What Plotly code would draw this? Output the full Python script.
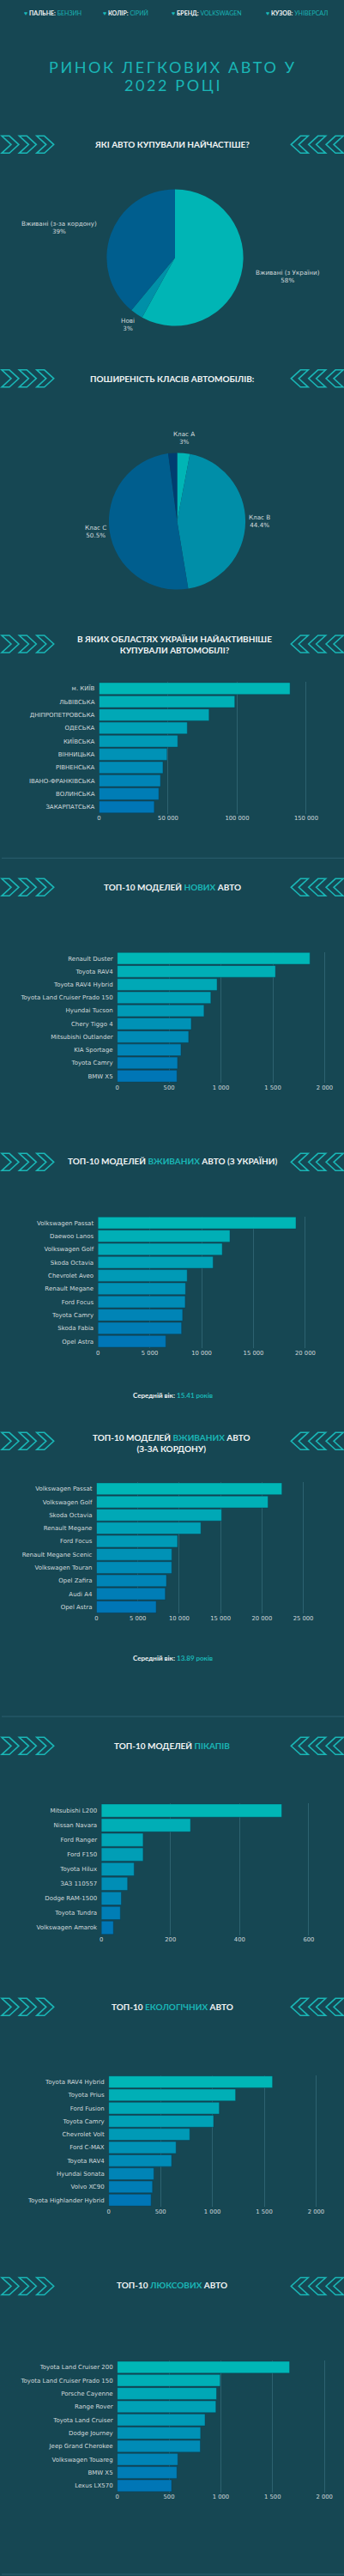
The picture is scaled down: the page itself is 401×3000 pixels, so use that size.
import plotly.graph_objects as go

# ---------------- DATA ----------------
header_labels = ["ПАЛЬНЕ:", "КОЛІР:", "БРЕНД:", "КУЗОВ:"]
header_values = ["БЕНЗИН", "СІРИЙ", "VOLKSWAGEN", "УНІВЕРСАЛ"]

main_title = ["РИНОК ЛЕГКОВИХ АВТО У", "2022 РОЦІ"]

pie1_labels = ["Вживані (з України)", "Нові", "Вживані (з-за кордону)"]
pie1_values = [58, 3, 39]

pie2_labels = ["Клас A", "Клас B", "Клас C", "Інші"]
pie2_values = [3, 44.4, 50.5, 2.1]

regions = ["м. КИЇВ", "ЛЬВІВСЬКА", "ДНІПРОПЕТРОВСЬКА", "ОДЕСЬКА", "КИЇВСЬКА",
           "ВІННИЦЬКА", "РІВНЕНСЬКА", "ІВАНО-ФРАНКІВСЬКА", "ВОЛИНСЬКА", "ЗАКАРПАТСЬКА"]
regions_values = [138300, 98300, 79700, 63900, 57000, 49300, 46300, 44500, 43300, 40000]

new_models = ["Renault Duster", "Toyota RAV4", "Toyota RAV4 Hybrid", "Toyota Land Cruiser Prado 150",
              "Hyundai Tucson", "Chery Tiggo 4", "Mitsubishi Outlander", "KIA Sportage",
              "Toyota Camry", "BMW X5"]
new_values = [1858, 1526, 963, 903, 837, 714, 689, 615, 582, 576]

used_ua_models = ["Volkswagen Passat", "Daewoo Lanos", "Volkswagen Golf", "Skoda Octavia",
                  "Chevrolet Aveo", "Renault Megane", "Ford Focus", "Toyota Camry",
                  "Skoda Fabia", "Opel Astra"]
used_ua_values = [19100, 12730, 11990, 11110, 8610, 8450, 8420, 8170, 8070, 6550]
used_ua_age = "15.41"

used_abroad_models = ["Volkswagen Passat", "Volkswagen Golf", "Skoda Octavia", "Renault Megane",
                      "Ford Focus", "Renault Megane Scenic", "Volkswagen Touran", "Opel Zafira",
                      "Audi A4", "Opel Astra"]
used_abroad_values = [22420, 20740, 15130, 12620, 9800, 9110, 9100, 8460, 8320, 7220]
used_abroad_age = "13.89"

pickup_models = ["Mitsubishi L200", "Nissan Navara", "Ford Ranger", "Ford F150", "Toyota Hilux",
                 "ЗАЗ 110557", "Dodge RAM-1500", "Toyota Tundra", "Volkswagen Amarok"]
pickup_values = [522, 258, 121, 121, 95, 76, 58, 55, 35]

eco_models = ["Toyota RAV4 Hybrid", "Toyota Prius", "Ford Fusion", "Toyota Camry", "Chevrolet Volt",
              "Ford C-MAX", "Toyota RAV4", "Hyundai Sonata", "Volvo XC90", "Toyota Highlander Hybrid"]
eco_values = [1580, 1224, 1067, 1012, 782, 650, 607, 436, 423, 409]

lux_models = ["Toyota Land Cruiser 200", "Toyota Land Cruiser Prado 150", "Porsche Cayenne",
              "Range Rover", "Toyota Land Cruiser", "Dodge Journey", "Jeep Grand Cherokee",
              "Volkswagen Touareg", "BMW X5", "Lexus LX570"]
lux_values = [1664, 994, 959, 953, 848, 805, 802, 585, 576, 525]

# ---------------- STYLE ----------------
W, H = 401, 3000
BG = "#164753"
TEAL = "#1ab6b6"
WHITE = "#f2f4f5"
LABEL = "#d3dadd"
GRID = "#2d6270"
FONT = "Lato"
LFONT = "DejaVu Sans"


def X(px):
    return px / W


def Y(py):
    return 1 - py / H


def grad(n):
    c0, c1 = (0, 182, 182), (0, 118, 182)
    out = []
    for i in range(n):
        t = i / (n - 1) if n > 1 else 0
        out.append("rgb(%d,%d,%d)" % tuple(round(a + (b - a) * t) for a, b in zip(c0, c1)))
    return out


fig = go.Figure()

# ---------------- PIES ----------------
fig.add_trace(go.Pie(
    labels=pie1_labels, values=pie1_values, sort=False, direction="clockwise", rotation=0,
    marker=dict(colors=["#00b5b5", "#0090a8", "#005e8e"], line=dict(width=0)),
    textinfo="none", showlegend=False,
    domain=dict(x=[X(123), X(283)], y=[Y(380), Y(220)]),
))
fig.add_trace(go.Pie(
    labels=pie2_labels, values=pie2_values, sort=False, direction="clockwise", rotation=0,
    marker=dict(colors=["#00b5b5", "#008ea8", "#005e8e", "#003d70"], line=dict(width=0)),
    textinfo="none", showlegend=False,
    domain=dict(x=[X(125.5), X(285.5)], y=[Y(687), Y(527)]),
))

annotations = []
shapes = []


def txt(x, y, text, size, color=WHITE, anchor="center", family=FONT):
    annotations.append(dict(
        x=X(x), y=Y(y), xref="paper", yref="paper", text=text, showarrow=False,
        xanchor=anchor, yanchor="middle", align="center",
        font=dict(family=family, size=size, color=color)))


pie1_pos = [(335, 322), (148, 378), (67, 265)]
for lab, v, (px, py) in zip(pie1_labels, pie1_values, pie1_pos):
    txt(px, py, "%s<br>%g%%" % (lab, v), 7.2, LABEL, family=LFONT)

pie2_pos = [(214, 510), (302, 607), (110, 619)]
for lab, v, (px, py) in zip(pie2_labels[:3], pie2_values[:3], pie2_pos):
    txt(px, py, "%s<br>%g%%" % (lab, v), 7.2, LABEL, family=LFONT)

# ---------------- BAR CHARTS ----------------
charts = [
    dict(cats=regions, vals=regions_values, x0=114, x1=389.1, rng=170000, dtick=50000, top=794.2, bot=947.5),
    dict(cats=new_models, vals=new_values, x0=135.3, x1=390.5, rng=2100, dtick=500, top=1108.5, bot=1260.8),
    dict(cats=used_ua_models, vals=used_ua_values, x0=112.7, x1=380.0, rng=22000, dtick=5000, top=1416.5, bot=1569.8),
    dict(cats=used_abroad_models, vals=used_abroad_values, x0=111.0, x1=372.7, rng=27000, dtick=5000, top=1726.2, bot=1879.1),
    dict(cats=pickup_models, vals=pickup_values, x0=116.7, x1=392.1, rng=680, dtick=200, top=2100.1, bot=2253.5),
    dict(cats=eco_models, vals=eco_values, x0=125.3, x1=392.6, rng=2200, dtick=500, top=2416.9, bot=2569.8),
    dict(cats=lux_models, vals=lux_values, x0=135.3, x1=390.2, rng=2100, dtick=500, top=2749.2, bot=2902.5),
]

layout_axes = {}
for i, c in enumerate(charts, start=1):
    xa, ya = "x%d" % i, "y%d" % i
    n = len(c["cats"])
    fig.add_trace(go.Bar(
        x=c["vals"], y=c["cats"], orientation="h", xaxis=xa, yaxis=ya, showlegend=False,
        marker=dict(color=grad(n), line=dict(color="rgba(10,60,80,0.55)", width=0.8)),
    ))
    layout_axes["xaxis%d" % i] = dict(
        domain=[X(c["x0"]), X(c["x1"])], anchor=ya, range=[0, c["rng"]], dtick=c["dtick"],
        tick0=0, tickformat=",d", showgrid=True, gridcolor=GRID, gridwidth=1, zeroline=False,
        showline=False, ticks="", tickfont=dict(family=LFONT, size=6.8, color=LABEL), fixedrange=True,
    )
    layout_axes["yaxis%d" % i] = dict(
        domain=[Y(c["bot"]), Y(c["top"])], anchor=xa, autorange="reversed", type="category",
        showgrid=False, zeroline=False, showline=False, ticks="", ticklabelstandoff=4,
        tickfont=dict(family=LFONT, size=7, color=LABEL), fixedrange=True,
    )

# ---------------- HEADER & TITLES ----------------
header_x = [59.5, 145, 240, 346]
for lab, val, hx in zip(header_labels, header_values, header_x):
    txt(hx, 15.5, "<span style='color:%s'>♥</span> <b>%s</b> <span style='color:%s'>%s</span>" % (TEAL, lab, TEAL, val), 7, WHITE)

txt(200.5, 78, "<span style='letter-spacing:2.6px'>%s</span>" % main_title[0], 18, TEAL)
txt(200.5, 99, "<span style='letter-spacing:2.6px'>%s</span>" % main_title[1], 18, TEAL)


def teal(s):
    return "<span style='color:%s'>%s</span>" % (TEAL, s)


section_titles = [
    (199, 168, "<b>ЯКІ АВТО КУПУВАЛИ НАЙЧАСТІШЕ?</b>", 168.3),
    (199.5, 440.5, "<b>ПОШИРЕНІСТЬ КЛАСІВ АВТОМОБІЛІВ:</b>", 440.8),
    (203, 751, "<b>В ЯКИХ ОБЛАСТЯХ УКРАЇНИ НАЙАКТИВНІШЕ<br>КУПУВАЛИ АВТОМОБІЛІ?</b>", 750),
    (199.5, 1033, "<b>ТОП-10 МОДЕЛЕЙ %s АВТО</b>" % teal("НОВИХ"), 1033.3),
    (200, 1352, "<b>ТОП-10 МОДЕЛЕЙ %s АВТО (З УКРАЇНИ)</b>" % teal("ВЖИВАНИХ"), 1353.3),
    (199, 1680, "<b>ТОП-10 МОДЕЛЕЙ %s АВТО<br>(З-ЗА КОРДОНУ)</b>" % teal("ВЖИВАНИХ"), 1678.3),
    (199.5, 2033, "<b>ТОП-10 МОДЕЛЕЙ %s</b>" % teal("ПІКАПІВ"), 2033.3),
    (200, 2337, "<b>ТОП-10 %s АВТО</b>" % teal("ЕКОЛОГІЧНИХ"), 2337.3),
    (199.5, 2661, "<b>ТОП-10 %s АВТО</b>" % teal("ЛЮКСОВИХ"), 2662.5),
]
for tx, ty, t, cy in section_titles:
    txt(tx, ty, t, 10, WHITE)
    # chevrons
    for side in ("left", "right"):
        for k in range(3):
            ox = k * 20.5
            pts = [(0, -10), (9, -10), (20, 0), (9, 10), (0, 10), (11, 0)]
            coords = []
            for (px, py) in pts:
                xx = ox + px if side == "left" else 400 - (ox + px)
                coords.append((X(xx), Y(cy + py)))
            path = "M " + " L ".join("%.6f %.6f" % p for p in coords) + " Z"
            shapes.append(dict(type="path", path=path, xref="paper", yref="paper",
                               line=dict(color=TEAL, width=1.6), fillcolor="rgba(0,0,0,0)"))

txt(200, 1625, "<b>Середній вік:</b> <b>%s</b>" % teal(used_ua_age + " років"), 8, WHITE)
txt(200, 1931, "<b>Середній вік:</b> <b>%s</b>" % teal(used_abroad_age + " років"), 8, WHITE)

# page separators
for sy in (999.3, 1999, 2998):
    shapes.append(dict(type="line", xref="paper", yref="paper", x0=0, x1=1, y0=Y(sy), y1=Y(sy),
                       line=dict(color="#2b6070", width=1)))

fig.update_layout(
    width=W, height=H, margin=dict(l=0, r=0, t=0, b=0),
    paper_bgcolor=BG, plot_bgcolor=BG, bargap=0.1, separators=". ",
    font=dict(family=FONT, color=LABEL),
    annotations=annotations, shapes=shapes, showlegend=False,
    **layout_axes,
)

fig.write_html("out.html", include_plotlyjs=True,
               config=dict(displayModeBar=False, responsive=False),
               post_script="document.body.style.margin='0';document.body.style.background='%s';" % BG)
